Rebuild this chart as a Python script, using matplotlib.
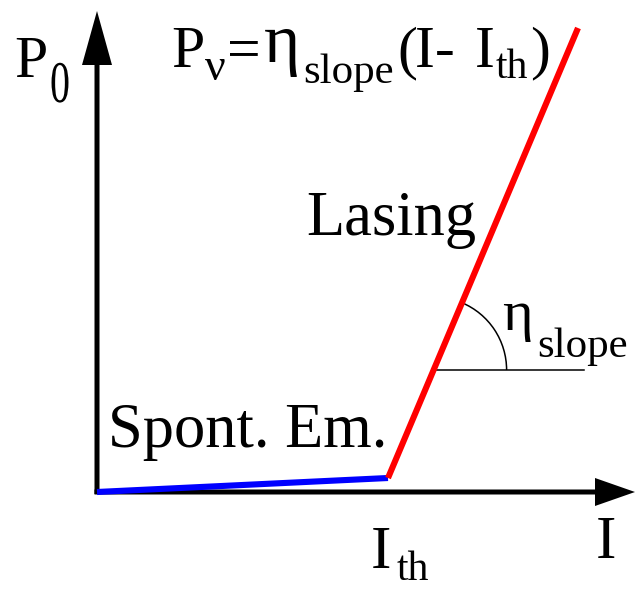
import os
import numpy as np
import matplotlib
matplotlib.use("Agg")
import matplotlib.pyplot as plt
from matplotlib.patches import FancyArrow, Arc, PathPatch
from matplotlib.textpath import TextPath
from matplotlib.font_manager import FontProperties
from matplotlib import font_manager as fm
from matplotlib.transforms import Affine2D

# ---- data (units: diagram units, origin at the axes corner) ----
I_spont = [0, 291]
P_spont = [0, 14]
I_lasing = [291, 481]
P_lasing = [14, 464]
I_axis_end = 538
P_axis_end = 481
slope_ref_P = 122          # height of the slope-angle marker
slope_ref_len = 150        # length of horizontal reference line
arc_radius = 73

try:
    FONT_PATH = fm.findfont(FontProperties(family="Liberation Serif"),
                            fallback_to_default=False)
except Exception:
    FONT_PATH = None


def fp(size):
    if FONT_PATH and os.path.exists(FONT_PATH):
        return FontProperties(fname=FONT_PATH, size=size)
    return FontProperties(family="serif", size=size)


W, H = 635, 589
OX, OY = 97, 492           # pixel position of the origin

fig = plt.figure(figsize=(W / 100, H / 100), dpi=100)
ax = fig.add_axes([0, 0, 1, 1])
ax.set_xlim(-OX, W - OX)
ax.set_ylim(-(H - OY), OY)
ax.set_aspect("equal")
ax.axis("off")


def T(xpx, ypx, s, size):
    ax.text(xpx - OX, OY - ypx, s, fontproperties=fp(size),
            ha="left", va="baseline", color="black")


# axes arrows
ax.add_patch(FancyArrow(0, -2, 0, P_axis_end + 2, width=5, head_width=30,
                        head_length=54, length_includes_head=True,
                        color="black", lw=0, zorder=2))
ax.add_patch(FancyArrow(-2.5, 0, I_axis_end + 2.5, 0, width=5, head_width=28,
                        head_length=40, length_includes_head=True,
                        color="black", lw=0, zorder=2))

# curves
ax.plot(I_spont, P_spont, color="#0000ff", lw=4.4, solid_capstyle="butt", zorder=3)
ax.plot(I_lasing, P_lasing, color="#ff0000", lw=4.4, solid_capstyle="butt", zorder=4)

# slope angle marker
slope = (P_lasing[1] - P_lasing[0]) / (I_lasing[1] - I_lasing[0])
xc = I_lasing[0] + (slope_ref_P - P_lasing[0]) / slope
ax.plot([xc, xc + slope_ref_len], [slope_ref_P, slope_ref_P], color="black",
        lw=1.1, zorder=2)
ang = np.degrees(np.arctan(slope))
ax.add_patch(Arc((xc, slope_ref_P), 2 * arc_radius, 2 * arc_radius, theta1=0,
                 theta2=ang, color="black", lw=1.1, zorder=2))

# ---- text ----
# P0 label
T(14, 77, "P", 43)
tp = TextPath((0, 0), "0", size=1, prop=fp(1))
tr = Affine2D().scale(40, 59).translate(50 - OX, OY - 102) + ax.transData
ax.add_patch(PathPatch(tp, transform=tr, color="black", lw=0))

# formula
T(171, 67, "P", 43)
T(205, 80, "ν", 33)
T(227, 67, "=", 43)
T(264, 62, "η", 50)
T(303, 83, "slope", 31)
T(397, 67, "(", 43)
T(415, 67, "I- ", 43)
T(475, 67, "I", 43)
T(496, 78, "th", 30)
T(530, 67, ")", 43)

T(306, 235, "Lasing", 45)
T(502, 330, "η", 42)
T(537, 357, "slope", 31)
T(108, 447, "Spont. Em.", 45)
T(371, 568, "I", 44)
T(397, 580, "th", 30)
T(596, 558, "I", 44)

fig.savefig("out.png", dpi=100)
